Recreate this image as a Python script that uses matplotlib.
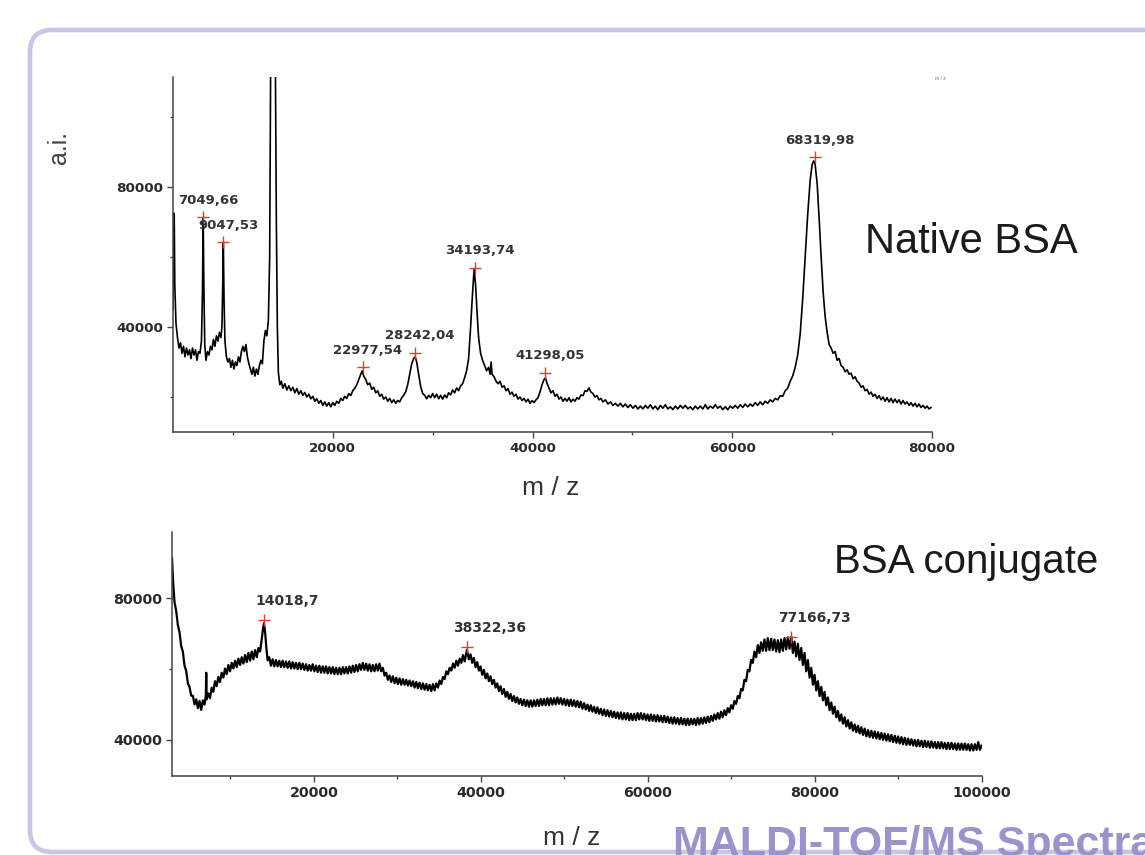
import numpy as np
import matplotlib
matplotlib.use("Agg")
import matplotlib.pyplot as plt
from matplotlib.patches import FancyBboxPatch
from matplotlib.transforms import IdentityTransform

# ---- native BSA spectrum (m/z, a.i.)
top_mz = [4000, 4030, 4120, 4180, 4300, 4450, 4600, 4750, 4900, 5050, 5200, 5350, 5500, 5650, 5800, 5950, 6100, 6250, 6400, 6550, 6700, 6850, 6950, 7020, 7100, 7180, 7300, 7450, 7600, 7750, 7900, 8050, 8200, 8350, 8500, 8650, 8800, 8900, 8980, 9040, 9110, 9200, 9350, 9500, 9650, 9800, 9950, 10100, 10250, 10400, 10550, 10700, 10850, 11000, 11150, 11300, 11450, 11600, 11750, 11900, 12050, 12200, 12350, 12500, 12650, 12800, 12950, 13100, 13250, 13400, 13550, 13680, 13780, 14250, 14350, 14450, 14550, 14700, 14850, 15000, 15200, 15400, 15600, 15800, 16000, 16200, 16400, 16600, 16800, 17000, 17200, 17400, 17600, 17800, 18000, 18200, 18400, 18600, 18800, 19000, 19200, 19400, 19600, 19800, 20000, 20200, 20400, 20600, 20800, 21000, 21200, 21400, 21600, 21800, 22000, 22200, 22400, 22600, 22800, 22950, 23100, 23300, 23500, 23700, 23900, 24100, 24300, 24500, 24700, 24900, 25100, 25300, 25500, 25700, 25900, 26100, 26300, 26500, 26700, 26900, 27100, 27300, 27500, 27700, 27900, 28100, 28250, 28400, 28600, 28800, 29000, 29200, 29400, 29600, 29800, 30000, 30200, 30400, 30600, 30800, 31000, 31200, 31400, 31600, 31800, 32000, 32200, 32400, 32600, 32800, 33000, 33200, 33400, 33600, 33800, 34000, 34150, 34300, 34450, 34600, 34800, 35000, 35200, 35400, 35600, 35750, 35850, 35950, 36150, 36350, 36550, 36750, 36950, 37150, 37350, 37550, 37750, 37950, 38150, 38350, 38550, 38750, 38950, 39150, 39350, 39550, 39750, 39950, 40150, 40350, 40550, 40750, 40950, 41150, 41300, 41450, 41650, 41850, 42050, 42250, 42450, 42650, 42850, 43050, 43250, 43450, 43650, 43850, 44050, 44250, 44450, 44650, 44850, 45050, 45250, 45450, 45650, 45850, 46050, 46250, 46450, 46650, 46850, 47050, 47300, 47550, 47800, 48050, 48300, 48550, 48800, 49050, 49300, 49550, 49800, 50050, 50300, 50550, 50800, 51050, 51300, 51550, 51800, 52050, 52300, 52550, 52800, 53050, 53300, 53550, 53800, 54050, 54300, 54550, 54800, 55050, 55300, 55550, 55800, 56050, 56300, 56550, 56800, 57050, 57300, 57550, 57800, 58050, 58300, 58550, 58800, 59050, 59300, 59550, 59800, 60050, 60300, 60550, 60800, 61050, 61300, 61550, 61800, 62050, 62300, 62550, 62800, 63050, 63300, 63550, 63800, 64050, 64300, 64550, 64800, 65050, 65300, 65550, 65800, 66050, 66300, 66550, 66800, 67050, 67300, 67550, 67800, 68000, 68150, 68300, 68500, 68700, 68900, 69100, 69300, 69500, 69700, 69900, 70100, 70300, 70500, 70700, 70900, 71100, 71300, 71500, 71700, 71900, 72100, 72300, 72500, 72700, 72900, 73100, 73300, 73500, 73700, 73900, 74100, 74300, 74500, 74700, 74900, 75100, 75300, 75500, 75700, 75900, 76100, 76300, 76500, 76700, 76900, 77100, 77300, 77500, 77700, 77900, 78100, 78300, 78500, 78700, 78900, 79100, 79300, 79500, 79700, 79900]
top_ai = [45000, 72500, 72500, 52000, 41000, 37000, 34000, 35500, 32500, 34500, 31500, 34000, 32000, 33500, 31000, 34000, 32000, 33500, 30500, 33000, 32500, 36000, 50000, 71000, 50000, 35000, 30500, 33000, 32000, 34500, 33500, 36500, 34500, 37500, 36000, 38500, 37000, 40000, 52000, 64000, 48000, 36000, 31500, 30000, 31000, 28500, 30500, 28000, 30000, 29000, 31500, 30000, 33000, 34500, 33000, 35000, 31500, 29500, 28000, 26500, 28500, 26000, 28000, 26500, 29000, 30500, 29500, 36000, 39000, 37500, 42000, 60000, 116000, 116000, 70000, 40000, 27000, 23500, 24500, 22500, 23800, 22000, 23200, 21800, 22800, 21200, 22400, 20800, 21800, 20500, 21300, 20000, 20800, 19500, 20200, 18800, 19500, 18200, 19000, 17600, 18600, 17400, 18400, 17200, 18400, 17600, 18800, 18200, 19600, 19000, 20200, 19600, 21000, 20400, 21800, 22500, 23500, 25000, 26500, 27500, 26000, 25000, 23500, 24000, 22200, 22800, 21200, 21800, 20200, 20800, 19400, 20000, 18800, 19600, 18400, 19200, 18200, 19000, 18600, 19800, 20500, 21500, 23500, 26500, 29500, 31000, 31500, 30000, 26500, 23000, 21000, 20500, 19500, 20500, 19800, 21000, 19800, 20800, 19500, 20500, 19400, 20600, 19800, 21200, 20600, 22000, 21200, 22600, 21800, 23200, 23800, 25500, 27500, 31000, 40000, 50000, 56500, 52000, 44000, 37000, 32500, 30500, 29000, 27500, 28500, 26500, 30000, 26500, 25800, 24500, 23800, 24500, 22800, 23200, 21800, 22400, 20800, 21400, 20200, 20800, 19400, 20000, 19000, 19600, 18600, 19400, 18200, 19000, 18400, 19200, 19800, 21500, 23500, 25000, 25500, 24000, 22500, 21200, 21800, 20200, 20800, 19400, 20000, 18800, 19600, 18800, 19800, 18600, 19400, 18800, 19800, 19400, 20600, 20400, 21800, 21600, 22600, 21400, 21000, 20000, 20400, 19200, 19600, 18600, 19200, 18000, 18600, 17600, 18200, 17400, 18200, 17200, 18000, 17000, 17800, 16800, 17600, 16600, 17400, 16600, 17600, 16800, 17800, 16600, 17400, 16400, 17600, 16800, 17800, 16600, 17200, 16400, 17400, 16600, 17600, 16800, 17600, 16600, 17200, 16400, 17400, 16600, 17400, 16600, 17800, 16600, 17400, 16800, 17800, 16800, 17400, 16400, 17200, 16400, 17400, 16800, 17600, 16800, 17800, 17000, 18000, 17200, 18000, 17400, 18400, 17600, 18600, 17800, 18800, 18200, 19200, 18600, 19600, 19200, 20400, 20200, 21800, 22500, 24500, 26000, 28500, 32000, 38000, 48000, 60000, 72000, 82000, 86500, 87500, 86500, 81000, 71000, 60000, 50000, 43000, 38500, 35000, 34000, 32500, 33000, 30500, 31000, 29000, 28500, 27200, 27800, 26500, 26800, 25200, 25800, 24500, 24000, 22800, 23200, 21800, 22200, 20800, 21400, 20200, 20800, 19600, 20400, 19200, 20000, 18800, 19800, 18600, 19600, 18400, 19400, 18400, 19200, 18000, 19000, 18000, 18600, 17600, 18400, 17400, 18200, 17200, 18000, 17000, 17600, 16800, 17400, 16600, 17000]

top_peaks_mz = [7049.66, 9047.53, 22977.54, 28242.04, 34193.74, 41298.05, 68319.98]
top_peaks_ai = [71400, 64300, 28500, 32700, 57000, 27000, 88500]
top_peaks_txt = ["7049,66", "9047,53", "22977,54", "28242,04", "34193,74", "41298,05", "68319,98"]

# ---- BSA conjugate spectrum
bot_mz = [3000, 3150, 3300, 3500, 3700, 3900, 4100, 4300, 4500, 4700, 4900, 5100, 5300, 5500, 5700, 5900, 6100, 6300, 6500, 6700, 6900, 7050, 7100, 7150, 7350, 7550, 7750, 7950, 8150, 8350, 8550, 8750, 8950, 9150, 9350, 9550, 9750, 9950, 10150, 10350, 10550, 10750, 10950, 11150, 11350, 11550, 11750, 11950, 12150, 12350, 12550, 12750, 12950, 13150, 13350, 13550, 13750, 13900, 14020, 14150, 14300, 14450, 14650, 14850, 15050, 15250, 15450, 15650, 15850, 16050, 16250, 16450, 16650, 16850, 17050, 17250, 17450, 17650, 17850, 18050, 18250, 18450, 18650, 18850, 19050, 19250, 19450, 19650, 19850, 20050, 20250, 20450, 20650, 20850, 21050, 21250, 21450, 21650, 21850, 22050, 22250, 22450, 22650, 22850, 23050, 23250, 23450, 23650, 23850, 24050, 24250, 24450, 24650, 24850, 25050, 25250, 25450, 25650, 25850, 26050, 26250, 26450, 26650, 26850, 27050, 27250, 27450, 27650, 27850, 28050, 28250, 28450, 28650, 28850, 29050, 29250, 29450, 29650, 29850, 30050, 30250, 30450, 30650, 30850, 31050, 31250, 31450, 31650, 31850, 32050, 32250, 32450, 32650, 32850, 33050, 33250, 33450, 33650, 33850, 34050, 34250, 34450, 34650, 34850, 35050, 35250, 35450, 35650, 35850, 36050, 36250, 36450, 36650, 36850, 37050, 37250, 37450, 37650, 37850, 38050, 38320, 38550, 38750, 38950, 39150, 39350, 39550, 39750, 39950, 40150, 40350, 40550, 40750, 40950, 41150, 41350, 41550, 41750, 41950, 42150, 42350, 42550, 42750, 42950, 43150, 43350, 43550, 43750, 43950, 44150, 44350, 44550, 44750, 44950, 45150, 45350, 45550, 45750, 45950, 46150, 46350, 46550, 46750, 46950, 47150, 47350, 47550, 47750, 47950, 48150, 48350, 48550, 48750, 48950, 49150, 49350, 49550, 49750, 49950, 50150, 50350, 50550, 50750, 50950, 51150, 51350, 51550, 51750, 51950, 52150, 52350, 52550, 52750, 52950, 53150, 53350, 53550, 53750, 53950, 54150, 54350, 54550, 54750, 54950, 55150, 55350, 55550, 55750, 55950, 56150, 56350, 56550, 56750, 56950, 57150, 57350, 57550, 57750, 57950, 58150, 58350, 58550, 58750, 58950, 59150, 59350, 59550, 59750, 59950, 60150, 60350, 60550, 60750, 60950, 61150, 61350, 61550, 61750, 61950, 62150, 62350, 62550, 62750, 62950, 63150, 63350, 63550, 63750, 63950, 64150, 64350, 64550, 64750, 64950, 65150, 65350, 65550, 65750, 65950, 66150, 66350, 66550, 66750, 66950, 67150, 67350, 67550, 67750, 67950, 68150, 68350, 68550, 68750, 68950, 69150, 69350, 69550, 69750, 69950, 70150, 70350, 70550, 70750, 70950, 71150, 71350, 71550, 71750, 71950, 72150, 72350, 72550, 72750, 72950, 73150, 73350, 73550, 73750, 73950, 74150, 74350, 74550, 74750, 74950, 75150, 75350, 75550, 75750, 75950, 76150, 76350, 76550, 76750, 76950, 77170, 77350, 77550, 77750, 77950, 78150, 78350, 78550, 78750, 78950, 79150, 79350, 79550, 79750, 79950, 80150, 80350, 80550, 80750, 80950, 81150, 81350, 81550, 81750, 81950, 82150, 82350, 82550, 82750, 82950, 83150, 83350, 83550, 83750, 83950, 84150, 84350, 84550, 84750, 84950, 85150, 85350, 85550, 85750, 85950, 86150, 86350, 86550, 86750, 86950, 87150, 87350, 87550, 87750, 87950, 88150, 88350, 88550, 88750, 88950, 89150, 89350, 89550, 89750, 89950, 90150, 90350, 90550, 90750, 90950, 91150, 91350, 91550, 91750, 91950, 92150, 92350, 92550, 92750, 92950, 93150, 93350, 93550, 93750, 93950, 94150, 94350, 94550, 94750, 94950, 95150, 95350, 95550, 95750, 95950, 96150, 96350, 96550, 96750, 96950, 97150, 97350, 97550, 97750, 97950, 98150, 98350, 98550, 98750, 98950, 99150, 99350, 99550, 99750, 99950]
bot_ai = [91500, 84000, 79000, 76500, 72500, 70500, 66500, 65000, 61000, 59500, 56000, 55000, 52500, 52500, 50000, 51500, 49000, 51000, 48500, 51200, 50000, 52500, 59000, 51500, 53200, 51800, 54800, 53600, 56600, 55200, 57800, 56400, 59000, 57600, 60200, 58600, 61200, 59400, 61800, 60200, 62400, 60600, 63000, 61200, 63400, 61600, 64000, 62000, 64600, 62400, 65000, 62800, 65400, 63400, 66000, 65000, 68500, 71500, 73000, 70500, 66000, 62500, 63400, 61000, 62800, 60800, 62600, 60800, 62400, 60600, 62400, 60600, 62200, 60400, 62200, 60200, 62000, 60200, 61800, 60000, 61800, 60000, 61600, 59800, 61400, 59600, 61200, 59600, 61400, 59400, 61000, 59200, 61000, 59000, 60800, 59000, 60800, 58800, 60600, 58800, 60600, 58600, 60400, 58600, 60400, 58600, 60600, 58800, 60600, 58800, 60800, 59000, 61000, 59200, 61200, 59400, 61400, 59800, 61800, 59800, 61600, 59600, 61400, 59400, 61200, 59400, 61400, 59600, 61600, 59400, 60400, 58200, 59000, 57000, 58200, 56400, 58000, 56000, 57600, 55800, 57400, 55600, 57200, 55600, 57000, 55400, 56800, 55200, 56600, 54800, 56400, 54600, 56200, 54400, 56000, 54200, 55800, 54000, 55600, 53800, 55800, 54000, 56000, 54800, 56800, 55800, 57800, 57200, 59400, 58600, 60400, 59600, 61600, 60400, 62400, 61000, 63000, 61800, 64000, 62200, 65500, 62800, 64200, 61800, 63200, 60600, 62000, 59600, 60800, 58400, 59800, 57400, 58800, 56600, 58000, 55800, 57000, 54800, 56000, 53800, 55200, 53000, 54400, 52200, 53600, 51600, 53000, 51000, 52400, 50600, 52000, 50200, 51600, 49800, 51400, 49600, 51200, 49400, 51200, 49400, 51200, 49600, 51400, 49600, 51600, 49800, 51600, 49800, 51800, 49800, 51800, 50000, 51800, 50000, 52000, 50200, 51800, 50000, 51600, 49800, 51400, 49600, 51400, 49600, 51200, 49400, 51000, 49200, 50800, 48800, 50400, 48600, 50000, 48200, 49800, 48000, 49400, 47600, 49200, 47400, 48800, 47000, 48600, 46800, 48400, 46600, 48200, 46400, 48000, 46200, 47800, 46000, 47800, 45800, 47600, 45800, 47600, 45600, 47400, 45600, 47400, 45600, 47600, 45800, 47600, 45800, 47400, 45600, 47200, 45400, 47200, 45400, 47000, 45200, 47000, 45200, 46800, 45000, 46800, 45000, 46600, 44800, 46400, 44600, 46400, 44600, 46200, 44400, 46200, 44400, 46000, 44200, 46000, 44200, 46000, 44400, 46000, 44200, 46200, 44400, 46200, 44600, 46400, 44800, 46600, 45000, 46800, 45400, 47200, 45800, 47600, 46000, 48000, 46400, 48400, 47000, 49000, 47800, 49800, 48800, 51000, 50200, 52400, 51800, 54400, 54000, 57000, 56600, 59800, 59400, 62600, 61800, 65000, 63400, 66800, 64600, 67600, 65200, 68400, 65200, 68800, 65400, 68600, 65400, 68400, 65000, 68200, 64800, 68400, 65200, 68800, 65600, 69000, 65800, 69200, 64600, 67800, 63600, 67200, 62600, 66000, 61200, 64600, 59400, 62600, 57600, 60400, 55600, 58400, 54000, 56600, 52400, 55000, 51200, 53600, 49800, 52000, 48400, 50600, 47400, 49400, 46400, 48200, 45400, 47200, 44600, 46400, 43800, 45600, 43200, 45000, 42600, 44400, 42200, 44000, 41800, 43600, 41400, 43200, 41000, 42800, 40800, 42600, 40600, 42400, 40400, 42200, 40200, 42000, 40000, 41800, 39800, 41600, 39600, 41400, 39400, 41200, 39200, 41000, 39000, 40800, 38800, 40600, 38600, 40400, 38600, 40200, 38400, 40000, 38200, 40000, 38200, 39800, 38000, 39800, 38000, 39600, 37800, 39600, 37800, 39400, 37600, 39400, 37600, 39400, 37600, 39200, 37400, 39200, 37400, 39200, 37400, 39000, 37200, 39000, 37200, 39000, 37200, 39000, 37200, 38800, 37000, 38800, 37000, 38800, 37200, 39400, 37200, 38400]

bot_peaks_mz = [14018.7, 38322.36, 77166.73]
bot_peaks_ai = [73900, 66300, 69200]
bot_peaks_txt = ["14018,7", "38322,36", "77166,73"]

W, H = 1145, 855
fig = plt.figure(figsize=(W/100, H/100), dpi=100)
fig.patch.set_facecolor("white")

def fx(px): return px / W
def fy(py): return 1 - py / H

# rounded frame around the slide
frame = FancyBboxPatch((30, 3), 1250, 822, boxstyle="round,pad=0,rounding_size=22",
                       transform=IdentityTransform(), fill=False, ec="#c9c5e6", lw=3.3)
fig.patches.append(frame)

def style(ax, fs):
    for s in ["top", "right"]:
        ax.spines[s].set_visible(False)
    for s in ["left", "bottom"]:
        ax.spines[s].set_color("#444444"); ax.spines[s].set_linewidth(1.1)
    ax.set_facecolor("none")
    ax.tick_params(which="major", direction="out", length=4, width=1, color="#444444",
                   labelsize=fs, labelcolor="#2a2a2a", pad=3)
    ax.tick_params(which="minor", direction="out", length=2.5, width=1, color="#444444")
    for lab in ax.get_xticklabels() + ax.get_yticklabels():
        lab.set_fontweight("bold"); lab.set_family("DejaVu Sans")

# ---- top panel
ax1 = fig.add_axes([fx(173), fy(432), fx(932) - fx(173), fy(77) - fy(432)])
ax1.plot(top_mz, top_ai, color="black", lw=1.2)
ax1.set_xlim(4000, 80000); ax1.set_ylim(10000, 111500)
ax1.set_xticks([20000, 40000, 60000, 80000]); ax1.set_xticks([10000, 30000, 50000, 70000], minor=True)
ax1.set_yticks([40000, 80000]); ax1.set_yticks([20000, 60000, 100000], minor=True)
style(ax1, 9.7)
ax1.plot(top_peaks_mz, top_peaks_ai, "+", color="#e03a3a", ms=8, mew=1)
for m, a, t in zip(top_peaks_mz, top_peaks_ai, top_peaks_txt):
    ax1.annotate(t, (m, a), xytext=(5, 17), textcoords="offset pixels", ha="center", va="center",
                 fontsize=9.5, fontweight="bold", color="#333333", family="DejaVu Sans")

# ---- bottom panel
ax2 = fig.add_axes([fx(172), fy(776), fx(982) - fx(172), fy(532) - fy(776)])
ax2.plot(bot_mz, bot_ai, color="black", lw=1.6)
ax2.set_xlim(3000, 100000); ax2.set_ylim(29800, 98800)
ax2.set_xticks([20000, 40000, 60000, 80000, 100000]); ax2.set_xticks([10000, 30000, 50000, 70000, 90000], minor=True)
ax2.set_yticks([40000, 80000]); ax2.set_yticks([60000], minor=True)
style(ax2, 10.3)
ax2.plot(bot_peaks_mz, bot_peaks_ai, "+", color="#e03a3a", ms=8, mew=1)
for m, a, t in zip(bot_peaks_mz, bot_peaks_ai, bot_peaks_txt):
    ax2.annotate(t, (m, a), xytext=(23, 19), textcoords="offset pixels", ha="center", va="center",
                 fontsize=10, fontweight="bold", color="#333333", family="DejaVu Sans")

# ---- texts
sans = "Liberation Sans"
fig.text(fx(59), fy(147), "a.i.", rotation=90, ha="center", va="center", fontsize=18, color="#444444", family=sans)
fig.text(fx(551), fy(488), "m / z", ha="center", va="center", fontsize=19, color="#333333", family=sans)
fig.text(fx(572), fy(838), "m / z", ha="center", va="center", fontsize=19, color="#333333", family=sans)
fig.text(fx(940), fy(78), "m / z", ha="center", va="center", fontsize=3.5, color="#777777", family=sans)
fig.text(fx(865), fy(253), "Native BSA", ha="left", va="baseline", fontsize=30, color="#1a1a1a", family=sans)
fig.text(fx(834), fy(573), "BSA conjugate", ha="left", va="baseline", fontsize=29, color="#1a1a1a", family=sans)
# slide title runs off the lower right edge, as in the source slide
fig.text(fx(673), fy(856), "MALDI-TOF/MS Spectra", ha="left", va="baseline", fontsize=31,
         fontweight="bold", color="#9b93c9", family=sans)

fig.savefig("out.png", dpi=100, facecolor="white")
